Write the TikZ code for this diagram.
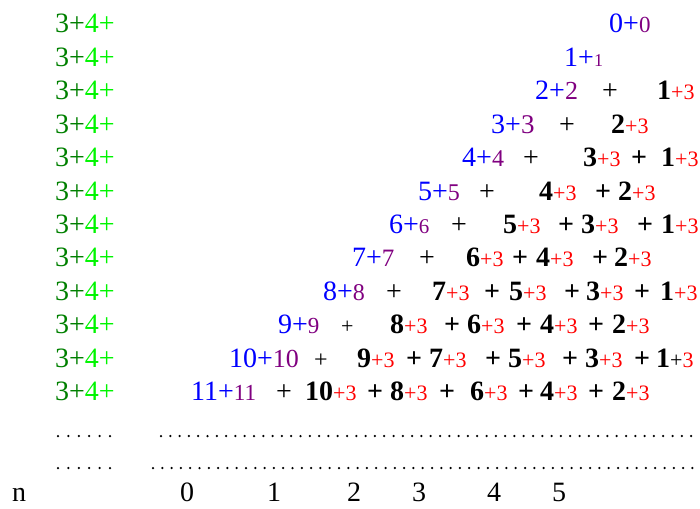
\documentclass[tikz,border=0pt]{standalone}
\usepackage{fontspec}
\setmainfont{Liberation Serif}
\usepackage{tikz}
\usetikzlibrary{positioning}
\usepackage{xcolor}

\definecolor{darkgrn}{RGB}{0,128,0}
\definecolor{litgrn}{RGB}{0,245,0}
\definecolor{leadblue}{RGB}{0,0,255}
\definecolor{leadpurple}{RGB}{128,0,128}
\definecolor{addred}{RGB}{255,0,0}

% blue k+ with a smaller purple k
\newcommand{\leadpair}[2]{\textcolor{leadblue}{#1+}\textcolor{leadpurple}{\fontsize{#2}{#2}\selectfont #1}}
% bold term with a small red +3
\newcommand{\bterm}[1]{{\bfseries #1}\textcolor{addred}{\fontsize{22}{22}\selectfont +3}}

\begin{document}
\begin{tikzpicture}[x=1pt, y=-1pt,
  txt/.style={anchor=base west, inner sep=0pt, font=\fontsize{28}{30}\selectfont},
  sep/.style={txt, font=\fontsize{28}{30}\selectfont\bfseries},
  nrow/.style={txt, text depth=0pt},
  dotrow/.style={line width=2.5pt, line cap=round, dash pattern=on 0pt off #1}
]
\useasboundingbox (0,0) rectangle (700,508);

% left column
\foreach \r/\y in {0/33,1/66.4,2/99.8,3/133.2,4/166.6,5/200,6/233.4,7/266.8,8/300.2,9/333.6,10/367,11/400.4}
  \node[txt] (grn\r) at (55,\y) {\textcolor{darkgrn}{3+}\textcolor{litgrn}{4+}};

% rows
\node[txt] (lead0) at (609,33) {\leadpair{0}{23}};
\node[txt] (lead1) at (564,66.4) {\leadpair{1}{18}};

\node[txt] (lead2) at (535,99.8) {\leadpair{2}{26}};
\node[txt] (plus2) at (602,99.8) {+};
\node[txt] (t2a) at (657,99.8) {\bterm{1}};

\node[txt] (lead3) at (491,133.2) {\leadpair{3}{27}};
\node[txt] (plus3) at (559,133.2) {+};
\node[txt] (t3a) at (611,133.2) {\bterm{2}};

\node[txt] (lead4) at (462,166.6) {\leadpair{4}{24}};
\node[txt] (plus4) at (523,166.6) {+};
\node[txt] (t4a) at (583,166.6) {\bterm{3}};
\node[sep] (s4a) at (631,166.6) {+};
\node[txt] (t4b) at (661,166.6) {\bterm{1}};

\node[txt] (lead5) at (418,200) {\leadpair{5}{24}};
\node[txt] (plus5) at (479,200) {+};
\node[txt] (t5a) at (539,200) {\bterm{4}};
\node[sep] (s5a) at (595,200) {+};
\node[txt] (t5b) at (618,200) {\bterm{2}};

\node[txt] (lead6) at (389,233.4) {\leadpair{6}{21}};
\node[txt] (plus6) at (451,233.4) {+};
\node[txt] (t6a) at (503,233.4) {\bterm{5}};
\node[sep] (s6a) at (558,233.4) {+};
\node[txt] (t6b) at (581,233.4) {\bterm{3}};
\node[sep] (s6b) at (637,233.4) {+};
\node[txt] (t6c) at (661,233.4) {\bterm{1}};

\node[txt] (lead7) at (352,266.8) {\leadpair{7}{25}};
\node[txt] (plus7) at (419,266.8) {+};
\node[txt] (t7a) at (466,266.8) {\bterm{6}};
\node[sep] (s7a) at (512,266.8) {+};
\node[txt] (t7b) at (536,266.8) {\bterm{4}};
\node[sep] (s7b) at (592,266.8) {+};
\node[txt] (t7c) at (614,266.8) {\bterm{2}};

\node[txt] (lead8) at (323,300.2) {\leadpair{8}{24}};
\node[txt] (plus8) at (386,300.2) {+};
\node[txt] (t8a) at (432,300.2) {\bterm{7}};
\node[sep] (s8a) at (484,300.2) {+};
\node[txt] (t8b) at (509,300.2) {\bterm{5}};
\node[sep] (s8b) at (564,300.2) {+};
\node[txt] (t8c) at (586,300.2) {\bterm{3}};
\node[sep] (s8c) at (634,300.2) {+};
\node[txt] (t8d) at (660,300.2) {\bterm{1}};

\node[txt] (lead9) at (278,333.6) {\leadpair{9}{23}};
\node[txt, font=\fontsize{22}{24}\selectfont] (plus9) at (341,333.6) {+};
\node[txt] (t9a) at (390,333.6) {\bterm{8}};
\node[sep] (s9a) at (444,333.6) {+};
\node[txt] (t9b) at (467,333.6) {\bterm{6}};
\node[sep] (s9b) at (516,333.6) {+};
\node[txt] (t9c) at (540,333.6) {\bterm{4}};
\node[sep] (s9c) at (588,333.6) {+};
\node[txt] (t9d) at (612,333.6) {\bterm{2}};

\node[txt] (lead10) at (229,367) {\leadpair{10}{26}};
\node[txt, font=\fontsize{24}{26}\selectfont] (plus10) at (314,367) {+};
\node[txt] (t10a) at (357,367) {\bterm{9}};
\node[sep] (s10a) at (406,367) {+};
\node[txt] (t10b) at (429,367) {\bterm{7}};
\node[sep] (s10b) at (485,367) {+};
\node[txt] (t10c) at (508,367) {\bterm{5}};
\node[sep] (s10c) at (562,367) {+};
\node[txt] (t10d) at (585,367) {\bterm{3}};
\node[sep] (s10d) at (634,367) {+};
\node[txt] (t10e) at (656,367) {{\bfseries 1}{\fontsize{22}{22}\selectfont +\textcolor{addred}{3}}};

\node[txt] (lead11) at (191,400.4) {\leadpair{11}{23}};
\node[txt] (plus11) at (276,400.4) {+};
\node[txt] (t11a) at (305,400.4) {\bterm{10}};
\node[sep] (s11a) at (367,400.4) {+};
\node[txt] (t11b) at (390,400.4) {\bterm{8}};
\node[sep] (s11b) at (439,400.4) {+};
\node[txt] (t11c) at (470,400.4) {\bterm{6}};
\node[sep] (s11c) at (518,400.4) {+};
\node[txt] (t11d) at (540,400.4) {\bterm{4}};
\node[sep] (s11d) at (588,400.4) {+};
\node[txt] (t11e) at (612,400.4) {\bterm{2}};

% dotted rows
\coordinate (d1a) at (58,436);  \coordinate (d1b) at (110.3,436);
\coordinate (d1c) at (161,436); \coordinate (d1d) at (700,436);
\coordinate (d2a) at (58,468);  \coordinate (d2b) at (110.3,468);
\coordinate (d2c) at (153,468); \coordinate (d2d) at (700,468);
\draw[dotrow=10.4pt] (d1a) -- (d1b);
\draw[dotrow=9.3pt] (d1c) -- (d1d);
\draw[dotrow=10.4pt] (d2a) -- (d2b);
\draw[dotrow=9.3pt] (d2c) -- (d2d);

% bottom labels
\node[nrow] (nlab) at (12,501) {n};
\node[nrow] (n0) at (180,501) {0};
\node[nrow] (n1) at (267,501) {1};
\node[nrow] (n2) at (347,501) {2};
\node[nrow] (n3) at (412,501) {3};
\node[nrow] (n4) at (487,501) {4};
\node[nrow] (n5) at (552,501) {5};
\end{tikzpicture}
\end{document}
